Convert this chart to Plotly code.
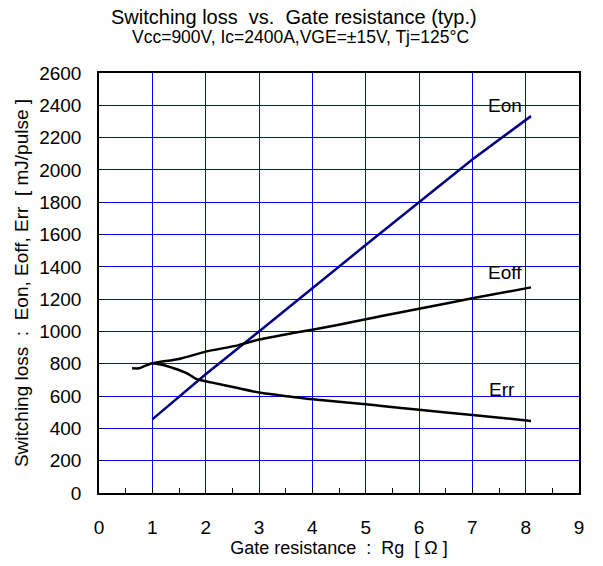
import plotly.graph_objects as go

# Gate resistance values (Ohm)
eon_x = [1.0, 2.0, 3.0, 4.0, 5.0, 6.0, 7.0, 8.1]
eon_y = [456, 735, 1000, 1270, 1535, 1800, 2065, 2333]

eoff_x = [0.62, 0.75, 0.85, 1.0, 1.5, 2.0, 2.6, 3.0, 3.6, 4.0, 5.0, 5.3, 6.0, 7.0, 8.1]
eoff_y = [772, 772, 785, 803, 830, 875, 914, 950, 988, 1010, 1075, 1096, 1140, 1205, 1273]

err_x = [1.0, 1.2, 1.4, 1.65, 1.82, 2.1, 2.6, 3.0, 3.6, 4.0, 5.0, 5.3, 6.0, 7.0, 8.1]
err_y = [803, 792, 772, 741, 707, 685, 650, 622, 596, 580, 550, 539, 515, 483, 446]

label_names = ["Eon", "Eoff", "Err"]
label_x = [7.62, 7.62, 7.55]
label_y = [2396, 1362, 638]

x_ticks = [0, 1, 2, 3, 4, 5, 6, 7, 8, 9]
y_ticks = list(range(0, 2601, 200))

FONT = "Liberation Sans, Arial, sans-serif"

# plot area sits at x 99-579, y 73-493 (page body margin removed below)
L, T, PW, PH = 99, 73, 480, 420

fig = go.Figure()
fig.add_trace(go.Scatter(x=eon_x, y=eon_y, mode="lines",
                         line=dict(color="#000080", width=2.5), showlegend=False))
fig.add_trace(go.Scatter(x=eoff_x, y=eoff_y, mode="lines",
                         line=dict(color="#000000", width=2.5, shape="spline", smoothing=0.6),
                         showlegend=False))
fig.add_trace(go.Scatter(x=err_x, y=err_y, mode="lines",
                         line=dict(color="#000000", width=2.5, shape="spline", smoothing=0.6),
                         showlegend=False))

for n, lx, ly in zip(label_names, label_x, label_y):
    fig.add_annotation(x=lx, y=ly, text=n, showarrow=False,
                       font=dict(family=FONT, size=19, color="#000000"))

fig.add_annotation(xref="paper", yref="paper", x=(294 - 99) / PW, y=1 + (73 - 17) / PH,
                   text="Switching loss  vs.  Gate resistance (typ.)", showarrow=False,
                   xanchor="center", yanchor="middle",
                   font=dict(family=FONT, size=20, color="#000000"))
fig.add_annotation(xref="paper", yref="paper", x=(300 - 99) / PW, y=1 + (73 - 37) / PH,
                   text="Vcc=900V, Ic=2400A,VGE=±15V, Tj=125°C", showarrow=False,
                   xanchor="center", yanchor="middle",
                   font=dict(family=FONT, size=17.5, color="#000000"))

fig.update_layout(
    width=603, height=566,
    margin=dict(l=L, r=603 - L - PW, t=T, b=566 - T - PH),
    paper_bgcolor="white", plot_bgcolor="white",
    font=dict(family=FONT, size=19, color="#000000"),
)
fig.update_xaxes(
    range=[0, 9], tickvals=x_ticks, showgrid=True, gridcolor="#0000FF", gridwidth=1,
    showline=True, linecolor="#000000", linewidth=1.5, mirror=True,
    ticks="inside", ticklen=5, tickcolor="#000000",
    minor=dict(dtick=0.5, ticks="inside", ticklen=5, tickcolor="#000000", showgrid=False),
    zeroline=False, ticklabelstandoff=16,
    title=dict(text="Gate resistance  :  Rg  [ Ω ]", standoff=4, font=dict(size=18)),
)
fig.update_yaxes(
    range=[0, 2600], tickvals=y_ticks, showgrid=True, gridcolor="#0000FF", gridwidth=1,
    showline=True, linecolor="#000000", linewidth=1.5, mirror=True,
    ticks="inside", ticklen=5, tickcolor="#000000",
    zeroline=False, ticklabelstandoff=12,
    title=dict(text="Switching loss  :  Eon, Eoff, Err  [ mJ/pulse ]", standoff=6, font=dict(size=19)),
)

fig.write_html("out.html", config={"displayModeBar": False},
               post_script="document.body.style.margin='0';")
